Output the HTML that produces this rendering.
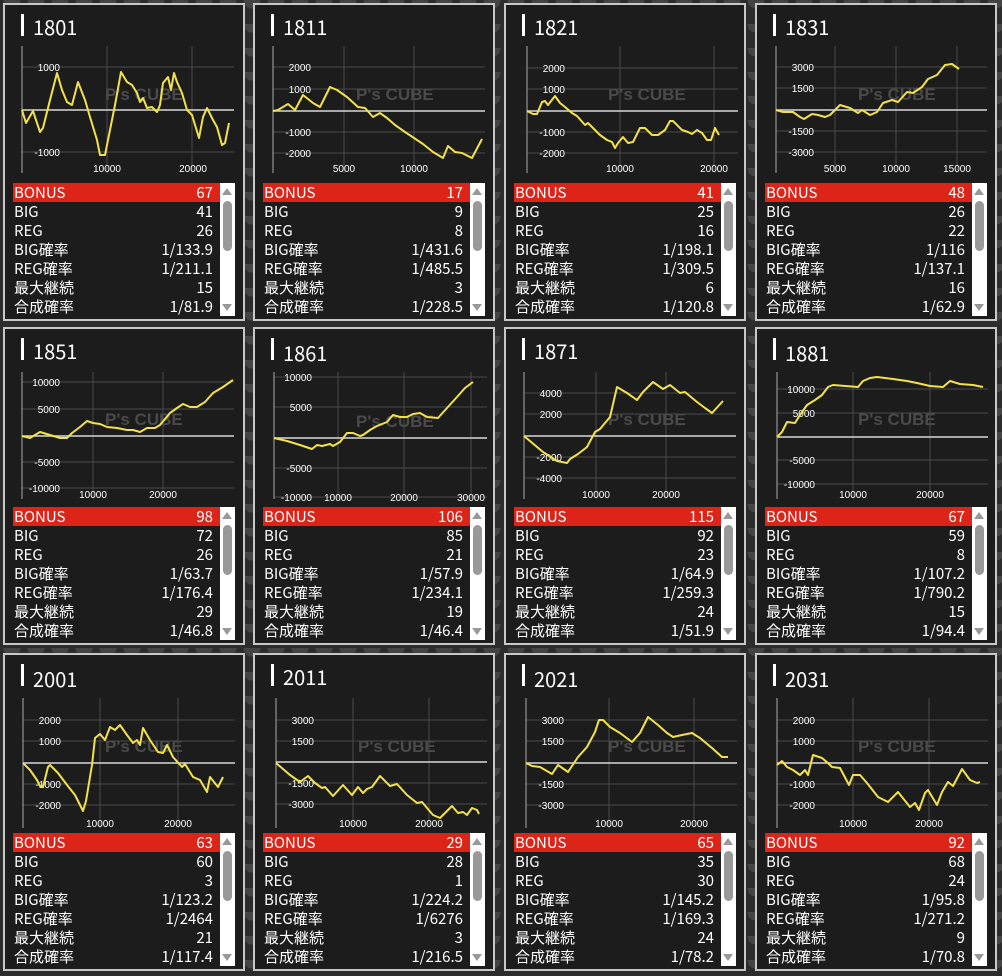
<!DOCTYPE html>
<html><head><meta charset="utf-8"><style>
body{margin:0;width:1002px;height:976px;background:#2e2e2e;position:relative;overflow:hidden;font-family:"Liberation Sans","Noto Sans CJK JP",sans-serif;}
.bg{position:absolute;inset:0;background:radial-gradient(circle at 50% 0,#444 0 8px,transparent 9px) 0 0/24px 24px,#2c2c2c;}
.c{position:absolute;width:238px;height:314px;border:2px solid #c8c8c8;background:#1c1c1c;}
.tb{position:absolute;left:16px;top:9px;width:3px;height:22px;background:#fff;}
.tt{position:absolute;left:28px;top:11px;font-size:20px;line-height:22px;color:#fff;font-family:"Noto Sans CJK JP","Liberation Sans",sans-serif;}
.t{position:absolute;left:8px;top:178px;width:207px;color:#fff;font-size:15px;font-family:"Noto Sans CJK JP","Liberation Sans",sans-serif;}
.t div{height:19px;line-height:19px;display:flex;justify-content:space-between;padding:0 7px 0 1px;overflow:hidden;}
.t div.r{background:#dd2418;}
.s{position:absolute;left:215px;top:178px;width:15px;height:133px;background:#fff;}
.s .th{position:absolute;left:3px;top:18px;width:9px;height:50px;background:#999;border-radius:5px;}
.s .u{position:absolute;left:2px;top:5px;border-left:5.5px solid transparent;border-right:5.5px solid transparent;border-bottom:7px solid #999;}
.s .d{position:absolute;left:2px;bottom:5px;border-left:5.5px solid transparent;border-right:5.5px solid transparent;border-top:7px solid #999;}
svg{position:absolute;left:0;top:0;}
</style></head><body>
<div class="bg"></div>

<div class="c" style="left:3px;top:3px"><div class="tb"></div><div class="tt">1801</div><div class="t"><div class="r"><span>BONUS</span><span>67</span></div><div><span>BIG</span><span>41</span></div><div><span>REG</span><span>26</span></div><div><span>BIG確率</span><span>1/133.9</span></div><div><span>REG確率</span><span>1/211.1</span></div><div><span>最大継続</span><span>15</span></div><div><span>合成確率</span><span>1/81.9</span></div></div><div class="s"><div class="u"></div><div class="th"></div><div class="d"></div></div></div>
<div class="c" style="left:253px;top:3px"><div class="tb"></div><div class="tt">1811</div><div class="t"><div class="r"><span>BONUS</span><span>17</span></div><div><span>BIG</span><span>9</span></div><div><span>REG</span><span>8</span></div><div><span>BIG確率</span><span>1/431.6</span></div><div><span>REG確率</span><span>1/485.5</span></div><div><span>最大継続</span><span>3</span></div><div><span>合成確率</span><span>1/228.5</span></div></div><div class="s"><div class="u"></div><div class="th"></div><div class="d"></div></div></div>
<div class="c" style="left:504px;top:3px"><div class="tb"></div><div class="tt">1821</div><div class="t"><div class="r"><span>BONUS</span><span>41</span></div><div><span>BIG</span><span>25</span></div><div><span>REG</span><span>16</span></div><div><span>BIG確率</span><span>1/198.1</span></div><div><span>REG確率</span><span>1/309.5</span></div><div><span>最大継続</span><span>6</span></div><div><span>合成確率</span><span>1/120.8</span></div></div><div class="s"><div class="u"></div><div class="th"></div><div class="d"></div></div></div>
<div class="c" style="left:755px;top:3px"><div class="tb"></div><div class="tt">1831</div><div class="t"><div class="r"><span>BONUS</span><span>48</span></div><div><span>BIG</span><span>26</span></div><div><span>REG</span><span>22</span></div><div><span>BIG確率</span><span>1/116</span></div><div><span>REG確率</span><span>1/137.1</span></div><div><span>最大継続</span><span>16</span></div><div><span>合成確率</span><span>1/62.9</span></div></div><div class="s"><div class="u"></div><div class="th"></div><div class="d"></div></div></div>

<div class="c" style="left:3px;top:327px"><div class="tb"></div><div class="tt">1851</div><div class="t"><div class="r"><span>BONUS</span><span>98</span></div><div><span>BIG</span><span>72</span></div><div><span>REG</span><span>26</span></div><div><span>BIG確率</span><span>1/63.7</span></div><div><span>REG確率</span><span>1/176.4</span></div><div><span>最大継続</span><span>29</span></div><div><span>合成確率</span><span>1/46.8</span></div></div><div class="s"><div class="u"></div><div class="th"></div><div class="d"></div></div></div>
<div class="c" style="left:253px;top:327px"><div class="tb"></div><div class="tt" style="top:13px">1861</div><div class="t"><div class="r"><span>BONUS</span><span>106</span></div><div><span>BIG</span><span>85</span></div><div><span>REG</span><span>21</span></div><div><span>BIG確率</span><span>1/57.9</span></div><div><span>REG確率</span><span>1/234.1</span></div><div><span>最大継続</span><span>19</span></div><div><span>合成確率</span><span>1/46.4</span></div></div><div class="s"><div class="u"></div><div class="th"></div><div class="d"></div></div></div>
<div class="c" style="left:504px;top:327px"><div class="tb"></div><div class="tt">1871</div><div class="t"><div class="r"><span>BONUS</span><span>115</span></div><div><span>BIG</span><span>92</span></div><div><span>REG</span><span>23</span></div><div><span>BIG確率</span><span>1/64.9</span></div><div><span>REG確率</span><span>1/259.3</span></div><div><span>最大継続</span><span>24</span></div><div><span>合成確率</span><span>1/51.9</span></div></div><div class="s"><div class="u"></div><div class="th"></div><div class="d"></div></div></div>
<div class="c" style="left:755px;top:327px"><div class="tb"></div><div class="tt" style="top:13px">1881</div><div class="t"><div class="r"><span>BONUS</span><span>67</span></div><div><span>BIG</span><span>59</span></div><div><span>REG</span><span>8</span></div><div><span>BIG確率</span><span>1/107.2</span></div><div><span>REG確率</span><span>1/790.2</span></div><div><span>最大継続</span><span>15</span></div><div><span>合成確率</span><span>1/94.4</span></div></div><div class="s"><div class="u"></div><div class="th"></div><div class="d"></div></div></div>

<div class="c" style="left:3px;top:653px"><div class="tb"></div><div class="tt" style="top:13px">2001</div><div class="t"><div class="r"><span>BONUS</span><span>63</span></div><div><span>BIG</span><span>60</span></div><div><span>REG</span><span>3</span></div><div><span>BIG確率</span><span>1/123.2</span></div><div><span>REG確率</span><span>1/2464</span></div><div><span>最大継続</span><span>21</span></div><div><span>合成確率</span><span>1/117.4</span></div></div><div class="s"><div class="u"></div><div class="th"></div><div class="d"></div></div></div>
<div class="c" style="left:253px;top:653px"><div class="tb"></div><div class="tt">2011</div><div class="t"><div class="r"><span>BONUS</span><span>29</span></div><div><span>BIG</span><span>28</span></div><div><span>REG</span><span>1</span></div><div><span>BIG確率</span><span>1/224.2</span></div><div><span>REG確率</span><span>1/6276</span></div><div><span>最大継続</span><span>3</span></div><div><span>合成確率</span><span>1/216.5</span></div></div><div class="s"><div class="u"></div><div class="th"></div><div class="d"></div></div></div>
<div class="c" style="left:504px;top:653px"><div class="tb"></div><div class="tt" style="top:13px">2021</div><div class="t"><div class="r"><span>BONUS</span><span>65</span></div><div><span>BIG</span><span>35</span></div><div><span>REG</span><span>30</span></div><div><span>BIG確率</span><span>1/145.2</span></div><div><span>REG確率</span><span>1/169.3</span></div><div><span>最大継続</span><span>24</span></div><div><span>合成確率</span><span>1/78.2</span></div></div><div class="s"><div class="u"></div><div class="th"></div><div class="d"></div></div></div>
<div class="c" style="left:755px;top:653px"><div class="tb"></div><div class="tt" style="top:13px">2031</div><div class="t"><div class="r"><span>BONUS</span><span>92</span></div><div><span>BIG</span><span>68</span></div><div><span>REG</span><span>24</span></div><div><span>BIG確率</span><span>1/95.8</span></div><div><span>REG確率</span><span>1/271.2</span></div><div><span>最大継続</span><span>9</span></div><div><span>合成確率</span><span>1/70.8</span></div></div><div class="s"><div class="u"></div><div class="th"></div><div class="d"></div></div></div>

<svg width="1002" height="976" viewBox="0 0 1002 976" font-family="Liberation Sans, sans-serif" font-size="10" fill="#fff">
<g stroke="#4a4a4a" stroke-width="1">
<line x1="22" y1="67" x2="234" y2="67"/><line x1="22" y1="152" x2="234" y2="152"/><line x1="107" y1="46" x2="107" y2="173"/><line x1="192" y1="46" x2="192" y2="173"/>
<line x1="273" y1="67" x2="485" y2="67"/><line x1="273" y1="89" x2="485" y2="89"/><line x1="273" y1="132" x2="485" y2="132"/><line x1="273" y1="153" x2="485" y2="153"/><line x1="344" y1="46" x2="344" y2="173"/><line x1="414" y1="46" x2="414" y2="173"/>
<line x1="527" y1="68" x2="738" y2="68"/><line x1="527" y1="89" x2="738" y2="89"/><line x1="527" y1="132" x2="738" y2="132"/><line x1="527" y1="153" x2="738" y2="153"/><line x1="620" y1="46" x2="620" y2="173"/><line x1="714" y1="46" x2="714" y2="173"/>
<line x1="776" y1="67" x2="987" y2="67"/><line x1="776" y1="88" x2="987" y2="88"/><line x1="776" y1="131" x2="987" y2="131"/><line x1="776" y1="152" x2="987" y2="152"/><line x1="835" y1="46" x2="835" y2="173"/><line x1="896" y1="46" x2="896" y2="173"/><line x1="957" y1="46" x2="957" y2="173"/>
<line x1="22" y1="382" x2="234" y2="382"/><line x1="22" y1="409" x2="234" y2="409"/><line x1="22" y1="462" x2="234" y2="462"/><line x1="22" y1="488" x2="234" y2="488"/><line x1="93" y1="372" x2="93" y2="499"/><line x1="163" y1="372" x2="163" y2="499"/>
<line x1="274" y1="377" x2="487" y2="377"/><line x1="274" y1="407" x2="487" y2="407"/><line x1="274" y1="468" x2="487" y2="468"/><line x1="274" y1="497" x2="487" y2="497"/><line x1="338" y1="372" x2="338" y2="499"/><line x1="404" y1="372" x2="404" y2="499"/><line x1="471" y1="372" x2="471" y2="499"/>
<line x1="524" y1="393" x2="736" y2="393"/><line x1="524" y1="414" x2="736" y2="414"/><line x1="524" y1="457" x2="736" y2="457"/><line x1="524" y1="478" x2="736" y2="478"/><line x1="596" y1="372" x2="596" y2="499"/><line x1="666" y1="372" x2="666" y2="499"/>
<line x1="777" y1="389" x2="988" y2="389"/><line x1="777" y1="413" x2="988" y2="413"/><line x1="777" y1="460" x2="988" y2="460"/><line x1="777" y1="484" x2="988" y2="484"/><line x1="853" y1="372" x2="853" y2="499"/><line x1="930" y1="372" x2="930" y2="499"/>
<line x1="23" y1="720" x2="235" y2="720"/><line x1="23" y1="741" x2="235" y2="741"/><line x1="23" y1="784" x2="235" y2="784"/><line x1="23" y1="805" x2="235" y2="805"/><line x1="100" y1="698" x2="100" y2="828"/><line x1="178" y1="698" x2="178" y2="828"/>
<line x1="276" y1="720" x2="487" y2="720"/><line x1="276" y1="741" x2="487" y2="741"/><line x1="276" y1="783" x2="487" y2="783"/><line x1="276" y1="804" x2="487" y2="804"/><line x1="353" y1="698" x2="353" y2="828"/><line x1="429" y1="698" x2="429" y2="828"/>
<line x1="526" y1="720" x2="737" y2="720"/><line x1="526" y1="741" x2="737" y2="741"/><line x1="526" y1="784" x2="737" y2="784"/><line x1="526" y1="805" x2="737" y2="805"/><line x1="609" y1="698" x2="609" y2="828"/><line x1="694" y1="698" x2="694" y2="828"/>
<line x1="777" y1="720" x2="988" y2="720"/><line x1="777" y1="741" x2="988" y2="741"/><line x1="777" y1="784" x2="988" y2="784"/><line x1="777" y1="805" x2="988" y2="805"/><line x1="853" y1="698" x2="853" y2="828"/><line x1="929" y1="698" x2="929" y2="828"/>
</g>
<g stroke="#aaa" stroke-width="1">
<line x1="22" y1="46" x2="22" y2="173"/><line x1="273" y1="46" x2="273" y2="173"/><line x1="527" y1="46" x2="527" y2="173"/><line x1="776" y1="46" x2="776" y2="173"/>
<line x1="22" y1="372" x2="22" y2="499"/><line x1="274" y1="372" x2="274" y2="499"/><line x1="524" y1="372" x2="524" y2="499"/><line x1="777" y1="372" x2="777" y2="499"/>
<line x1="23" y1="698" x2="23" y2="828"/><line x1="276" y1="698" x2="276" y2="828"/><line x1="526" y1="698" x2="526" y2="828"/><line x1="777" y1="698" x2="777" y2="828"/>
</g>
<g stroke="#d8d8d8" stroke-width="1.5">
<line x1="22" y1="110" x2="234" y2="110"/><line x1="273" y1="111" x2="485" y2="111"/><line x1="527" y1="111" x2="738" y2="111"/><line x1="776" y1="110" x2="987" y2="110"/>
<line x1="22" y1="436" x2="234" y2="436"/><line x1="274" y1="438" x2="487" y2="438"/><line x1="524" y1="436" x2="736" y2="436"/><line x1="777" y1="437" x2="988" y2="437"/>
<line x1="23" y1="763" x2="235" y2="763"/><line x1="276" y1="762" x2="487" y2="762"/><line x1="526" y1="763" x2="737" y2="763"/><line x1="777" y1="763" x2="988" y2="763"/>
</g>
<g fill="#4a4a4a" font-weight="bold" font-size="17">
<text x="105" y="100">P's CUBE</text><text x="356" y="100">P's CUBE</text><text x="608" y="100">P's CUBE</text><text x="858" y="100">P's CUBE</text>
<text x="105" y="425">P's CUBE</text><text x="356" y="427">P's CUBE</text><text x="608" y="425">P's CUBE</text><text x="858" y="425">P's CUBE</text>
<text x="105" y="752">P's CUBE</text><text x="358" y="752">P's CUBE</text><text x="608" y="752">P's CUBE</text><text x="858" y="752">P's CUBE</text>
</g>
<g text-anchor="end">
<text x="60" y="71">1000</text><text x="60" y="156">-1000</text>
<text x="311" y="71">2000</text><text x="311" y="93">1000</text><text x="311" y="136">-1000</text><text x="311" y="157">-2000</text>
<text x="565" y="72">2000</text><text x="565" y="93">1000</text><text x="565" y="136">-1000</text><text x="565" y="157">-2000</text>
<text x="814" y="71">3000</text><text x="814" y="92">1500</text><text x="814" y="135">-1500</text><text x="814" y="156">-3000</text>
<text x="60" y="386">10000</text><text x="60" y="413">5000</text><text x="60" y="466">-5000</text><text x="60" y="492">-10000</text>
<text x="312" y="381">10000</text><text x="312" y="411">5000</text><text x="312" y="472">-5000</text><text x="312" y="501">-10000</text>
<text x="562" y="397">4000</text><text x="562" y="418">2000</text><text x="562" y="461">-2000</text><text x="562" y="482">-4000</text>
<text x="815" y="393">10000</text><text x="815" y="417">5000</text><text x="815" y="464">-5000</text><text x="815" y="488">-10000</text>
<text x="61" y="724">2000</text><text x="61" y="745">1000</text><text x="61" y="788">-1000</text><text x="61" y="809">-2000</text>
<text x="314" y="724">3000</text><text x="314" y="745">1500</text><text x="314" y="787">-1500</text><text x="314" y="808">-3000</text>
<text x="564" y="724">3000</text><text x="564" y="745">1500</text><text x="564" y="788">-1500</text><text x="564" y="809">-3000</text>
<text x="815" y="724">2000</text><text x="815" y="745">1000</text><text x="815" y="788">-1000</text><text x="815" y="809">-2000</text>
</g>
<g text-anchor="middle">
<text x="107" y="172">10000</text><text x="193" y="172">20000</text>
<text x="344" y="172">5000</text><text x="414" y="172">10000</text>
<text x="620" y="172">10000</text><text x="714" y="172">20000</text>
<text x="835" y="172">5000</text><text x="896" y="172">10000</text><text x="957" y="172">15000</text>
<text x="93" y="498">10000</text><text x="163" y="498">20000</text>
<text x="338" y="501">10000</text><text x="404" y="501">20000</text><text x="471" y="501">30000</text>
<text x="596" y="498">10000</text><text x="666" y="498">20000</text>
<text x="853" y="498">10000</text><text x="930" y="498">20000</text>
<text x="100" y="827">10000</text><text x="178" y="827">20000</text>
<text x="353" y="827">10000</text><text x="429" y="827">20000</text>
<text x="609" y="827">10000</text><text x="694" y="827">20000</text>
<text x="853" y="827">10000</text><text x="929" y="827">20000</text>
</g>
<g fill="none" stroke="#f2e24a" stroke-width="2" stroke-linejoin="round">
<polyline points="22,110 26,123 33,111 40,132 43,128 50,100 57,73 62,90 67,102 72,105 78,82 85,100 90,117 97,140 100,155 105,155 110,130 115,105 121,72 127,82 132,85 137,93 140,102 143,98 147,108 152,107 157,112 160,105 163,83 168,77 171,90 174,73 177,82 182,93 187,110 192,115 199,138 203,117 207,108 213,120 217,127 222,145 225,143 229,123"/>
<polyline points="273,111 278,110 288,104 295,110 303,95 313,103 320,107 330,87 337,90 347,97 358,107 365,108 373,117 380,113 387,118 395,125 405,132 417,140 423,144 433,152 443,158 448,146 455,152 462,153 472,158 482,139"/>
<polyline points="527,111 533,114 537,114 542,102 545,101 548,105 555,96 560,103 565,107 572,113 577,116 585,125 588,123 593,128 600,135 607,140 612,142 615,148 618,143 623,137 628,143 633,142 640,128 645,128 652,135 658,135 665,130 670,121 673,121 682,130 688,132 692,134 697,130 702,133 707,140 711,140 715,128 719,135"/>
<polyline points="776,110 783,112 793,112 800,117 804,119 812,114 818,115 825,117 830,115 840,105 850,108 858,113 862,110 870,115 877,112 883,103 892,100 898,102 907,92 913,93 922,87 928,79 937,75 945,65 952,64 959,69"/>
<polyline points="22,436 30,438 40,432 50,435 60,438 67,438 72,433 80,427 87,421 93,423 100,424 107,427 117,428 127,430 133,430 140,432 147,428 155,428 160,425 170,413 177,408 183,404 190,407 197,407 205,402 213,393 223,387 233,380"/>
<polyline points="274,438 287,441 300,445 312,449 317,445 322,446 330,444 333,446 340,442 347,433 353,433 360,436 363,435 370,430 377,426 387,422 393,415 400,417 407,417 413,414 420,413 427,417 438,418 447,408 457,397 465,388 473,382"/>
<polyline points="524,436 543,452 557,461 567,463 570,459 578,454 587,447 595,432 600,429 610,417 617,387 627,393 637,400 643,392 653,382 663,389 670,385 680,393 685,392 697,402 705,408 712,413 723,401"/>
<polyline points="777,437 782,432 787,422 795,423 800,415 807,405 815,400 822,395 828,387 833,385 858,387 863,381 870,378 877,377 893,379 907,381 917,383 930,386 943,387 950,381 960,384 973,385 983,387"/>
<polyline points="23,763 30,770 37,780 40,786 43,787 48,767 50,765 58,773 67,785 75,795 83,811 86,801 92,765 95,738 100,734 105,740 110,727 115,730 120,725 127,735 133,743 137,740 140,745 143,728 150,740 158,752 163,753 167,745 173,757 182,767 185,764 193,777 200,780 207,792 210,777 218,787 223,777"/>
<polyline points="276,763 290,775 300,782 308,776 315,783 322,788 325,787 333,796 343,785 352,795 358,787 363,793 367,789 372,787 380,776 390,786 397,784 407,795 417,803 422,802 433,815 440,818 452,806 458,813 463,812 467,815 472,808 477,810 479,814"/>
<polyline points="526,763 532,766 540,767 552,774 558,765 568,772 578,757 587,747 595,732 599,720 603,720 610,727 620,733 632,742 640,733 648,717 658,725 667,733 673,737 682,735 692,733 700,738 712,748 722,757 728,757"/>
<polyline points="777,765 782,761 787,767 793,770 800,775 805,770 808,775 813,755 822,758 828,763 832,767 840,768 849,785 853,775 860,775 867,783 878,797 888,802 898,792 910,807 915,803 919,810 925,793 928,790 937,805 942,792 948,782 953,786 962,769 970,780 977,783 980,782"/>
</g>
</svg>
</body></html>
